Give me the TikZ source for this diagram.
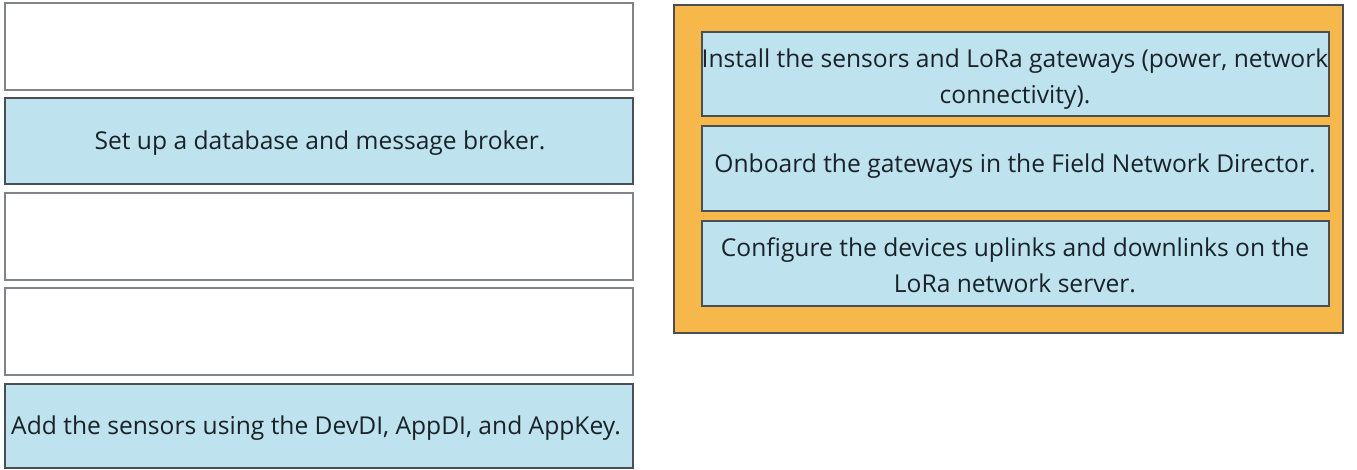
\documentclass[tikz,border=0pt]{standalone}
\usepackage{fontspec}
\setmainfont{Open Sans}
\definecolor{boxblue}{HTML}{BEE3EF}
\definecolor{frameorange}{HTML}{F6B84B}
\definecolor{edgegray}{HTML}{4A4F55}
\definecolor{txtgray}{HTML}{182228}
\begin{document}
\begin{tikzpicture}[x=1pt,y=-1pt,
  slot/.style={draw=edgegray!70, line width=1.2pt, fill=white},
  card/.style={draw=edgegray, line width=1.6pt, fill=boxblue},
  label/.style={text=txtgray, font=\fontsize{24.6}{36}\selectfont, align=center, inner sep=0pt},
  frame/.style={draw=edgegray, line width=1.4pt, fill=frameorange}]
\useasboundingbox (0,0) rectangle (1357,470);
\fill[white] (0,0) rectangle (1357,470);
% left column
\draw[slot] (5,3) rectangle (633,90);
\draw[card] (5,98) rectangle (633,184);
\node[label] (t2) at (320,143) {Set up a database and message broker.};
\draw[slot] (5,193) rectangle (633,280);
\draw[slot] (5,288) rectangle (633,375);
\draw[card] (5,384) rectangle (633,468);
\node[label] (t5) at (316,428) {Add the sensors using the DevDI, AppDI, and AppKey.};
% right frame
\draw[frame] (674,5) rectangle (1343,333);
\draw[card] (702,32) rectangle (1329,116);
\node[label] (r1) at (1015,79) {Install the sensors and LoRa gateways (power, network\\connectivity).};
\draw[card] (702,126) rectangle (1329,211);
\node[label] (r2) at (1015,166) {Onboard the gateways in the Field Network Director.};
\draw[card] (702,221) rectangle (1329,306);
\node[label] (r3) at (1015,265) {Configure the devices uplinks and downlinks on the\\LoRa network server.};
\end{tikzpicture}
\end{document}
